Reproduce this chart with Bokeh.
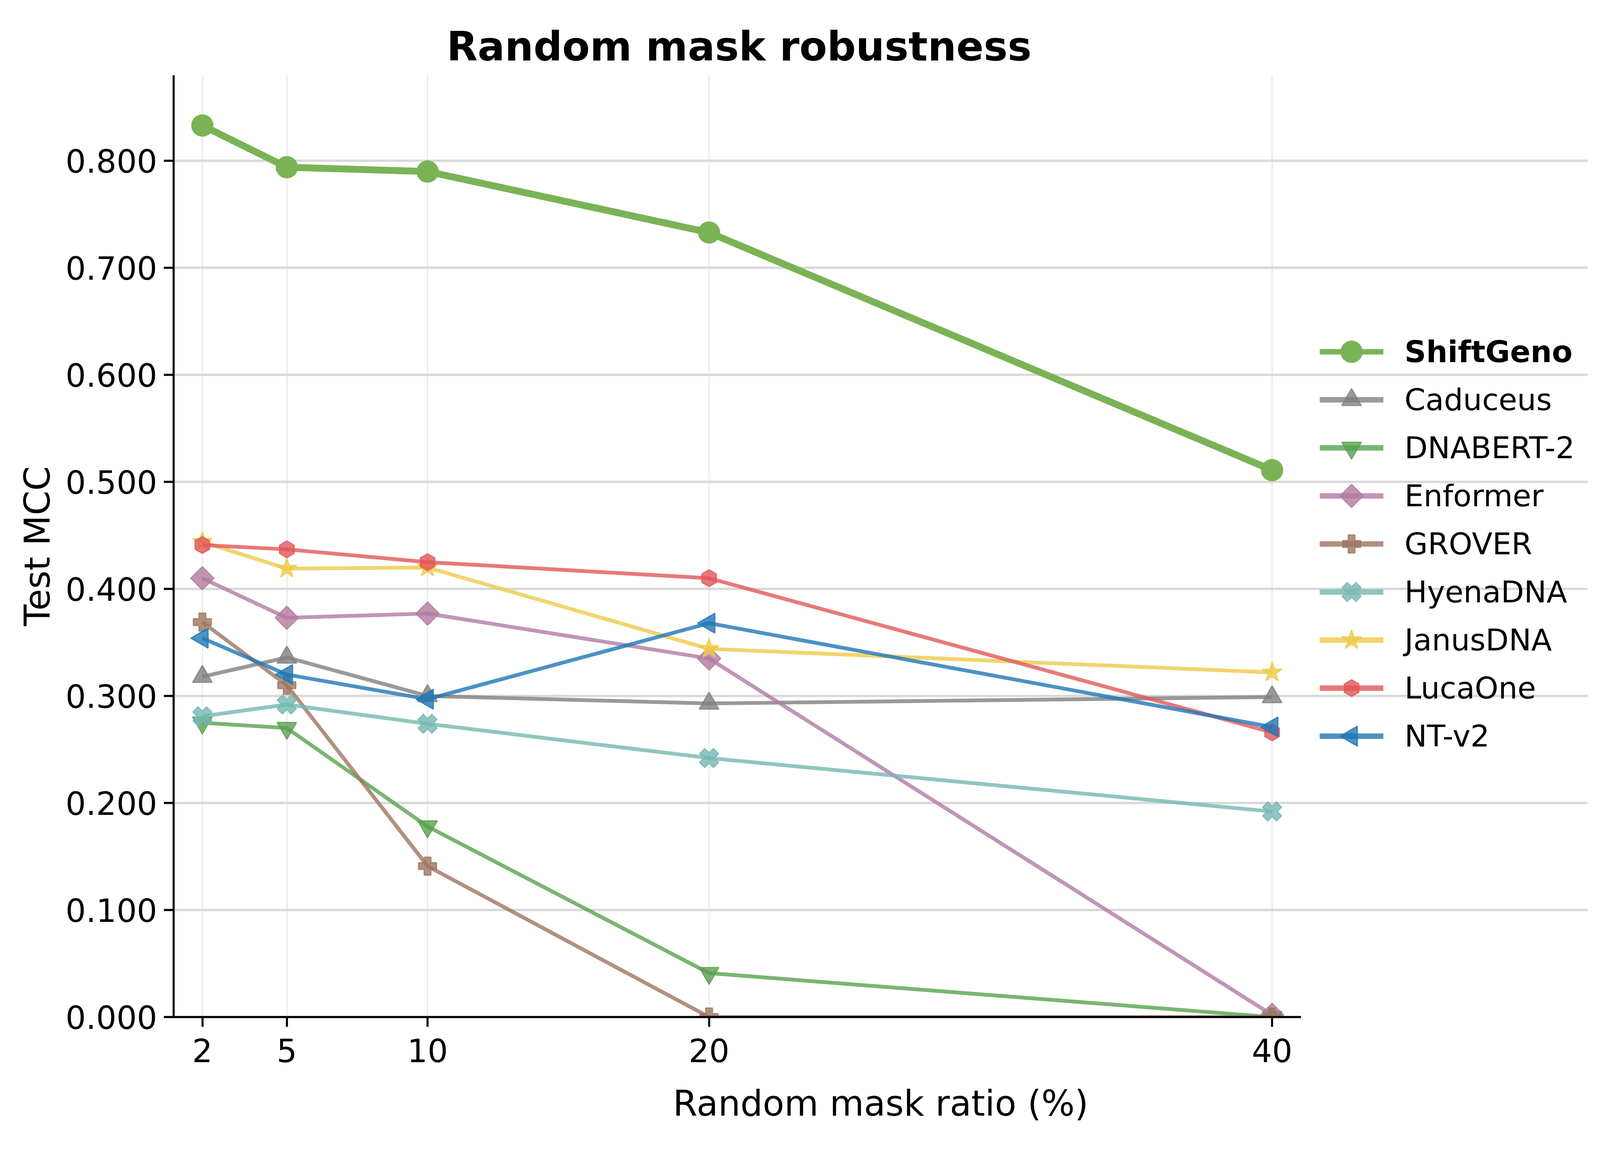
import numpy as np
from bokeh.plotting import figure
from bokeh.models import Range1d, FixedTicker, PrintfTickFormatter
from bokeh.core.properties import value
from bokeh.embed import file_html
from bokeh.resources import INLINE

# Datos
mask_ratio = [2, 5, 10, 20, 40]
x_ticks = [2, 5, 10, 20, 40]
y_ticks = [0.0, 0.1, 0.2, 0.3, 0.4, 0.5, 0.6, 0.7, 0.8]

shiftgeno = [0.833, 0.794, 0.790, 0.733, 0.511]
caduceus = [0.318, 0.336, 0.300, 0.293, 0.299]
dnabert2 = [0.275, 0.270, 0.178, 0.041, 0.0]
enformer = [0.410, 0.373, 0.377, 0.335, 0.002]
grover = [0.369, 0.310, 0.141, 0.0, 0.0]
hyenadna = [0.281, 0.292, 0.274, 0.242, 0.192]
janusdna = [0.444, 0.419, 0.420, 0.344, 0.322]
lucaone = [0.441, 0.437, 0.425, 0.410, 0.266]
ntv2 = [0.354, 0.320, 0.297, 0.368, 0.271]

FONT = "DejaVu Sans"
W, H = 4070, 2930
BL, BR, BT, BB = 444, 6, 192, 327     # bordes alrededor del marco
X_LO, X_HI = 0.98, 41.02               # zona de datos
X_END = 51.21                          # el marco sigue hasta la leyenda
Y_TOP = 0.88

p = figure(width=W, height=H, output_backend="svg", toolbar_location=None,
           x_range=Range1d(X_LO, X_END), y_range=Range1d(0, Y_TOP),
           min_border_left=BL, min_border_right=BR,
           min_border_top=BT, min_border_bottom=BB)

p.title.text = "Random mask robustness"
p.title.text_font = FONT
p.title.text_font_style = "bold"
p.title.text_font_size = "103px"
p.title.text_color = "black"
p.title.align = "left"
p.title.offset = 699
p.title.standoff = 27

p.outline_line_color = None

# ejes
p.xaxis.ticker = FixedTicker(ticks=x_ticks)
p.yaxis.ticker = FixedTicker(ticks=y_ticks)
p.yaxis.formatter = PrintfTickFormatter(format="%.3f")
p.xaxis.bounds = (X_LO, X_HI)
p.xaxis.axis_label = "Random mask ratio (%)"
p.yaxis.axis_label = "Test MCC"
for ax in (p.xaxis, p.yaxis):
    ax.axis_line_width = 5.3
    ax.axis_line_color = "black"
    ax.major_tick_line_width = 5.3
    ax.major_tick_line_color = "black"
    ax.major_tick_out = 25
    ax.major_tick_in = 0
    ax.minor_tick_line_color = None
    ax.major_label_text_font = FONT
    ax.major_label_text_font_size = "82px"
    ax.major_label_text_color = "black"
    ax.axis_label_text_font = FONT
    ax.axis_label_text_font_size = "90px"
    ax.axis_label_text_font_style = "normal"
    ax.axis_label_text_color = "black"
p.xaxis.major_label_standoff = 30
p.yaxis.major_label_standoff = 17
p.xaxis.axis_label_standoff = 50
p.yaxis.axis_label_standoff = 17

p.xgrid.grid_line_color = "#ebebeb"
p.xgrid.grid_line_width = 3.5
p.ygrid.grid_line_color = "#d9d9d9"
p.ygrid.grid_line_width = 6.2
p.ygrid.bounds = (X_LO, X_HI)

series = [
    ("ShiftGeno", shiftgeno, "#7ab356", "circle", 0.0, 57, 17.7, 1.0),
    ("Caduceus", caduceus, "#7f7f7f", "triangle", 0.0, 50, 9.7, 0.8),
    ("DNABERT-2", dnabert2, "#59a14f", "inverted_triangle", 0.0, 50, 9.7, 0.8),
    ("Enformer", enformer, "#b07aa1", "square", np.pi / 4, 42, 9.7, 0.8),
    ("GROVER", grover, "#9c755f", "plus", 0.0, 46, 9.7, 0.8),
    ("HyenaDNA", hyenadna, "#76b7b2", "plus", np.pi / 4, 50, 9.7, 0.8),
    ("JanusDNA", janusdna, "#edc948", "star", 0.0, 53, 9.7, 0.8),
    ("LucaOne", lucaone, "#e15759", "hex", np.pi / 6, 43, 9.7, 0.8),
    ("NT-v2", ntv2, "#1f77b4", "triangle", np.pi / 2, 51, 9.7, 0.8),
]

# paso de pixeles (del marco) a unidades de datos, para la leyenda
fw = W - BR - BL
fh = H - BB - BT
def x_px(px):
    return X_LO + px / fw * (X_END - X_LO)
def y_px(px):
    return Y_TOP - px / fh * Y_TOP

key_x0, key_x1, key_text = x_px(2934), x_px(3097), x_px(3151)
row0, row_step = 708, 123

for i, (name, vals, color, marker, ang, size, lw, alpha) in enumerate(series):
    edge = 3.1 if alpha < 1 else 0
    p.line(mask_ratio, vals, line_color=color, line_width=lw, line_alpha=alpha)
    p.scatter(mask_ratio, vals, marker=marker, angle=ang, size=size,
              fill_color=color, fill_alpha=alpha, line_color=color,
              line_alpha=alpha, line_width=edge)
    # leyenda
    ky = y_px(row0 + i * row_step)
    p.line([key_x0, key_x1], [ky, ky], line_color=color, line_width=14.2,
           line_alpha=alpha)
    p.scatter([(key_x0 + key_x1) / 2], [ky], marker=marker, angle=ang, size=size,
              fill_color=color, fill_alpha=alpha, line_color=color,
              line_alpha=alpha, line_width=edge)
    p.text([key_text], [ky], text=[name], text_font=value(FONT),
           text_font_size="77px", text_color="black",
           text_font_style="bold" if i == 0 else "normal",
           text_baseline="middle", text_align="left")

open("out.html", "w").write(file_html(p, INLINE))
